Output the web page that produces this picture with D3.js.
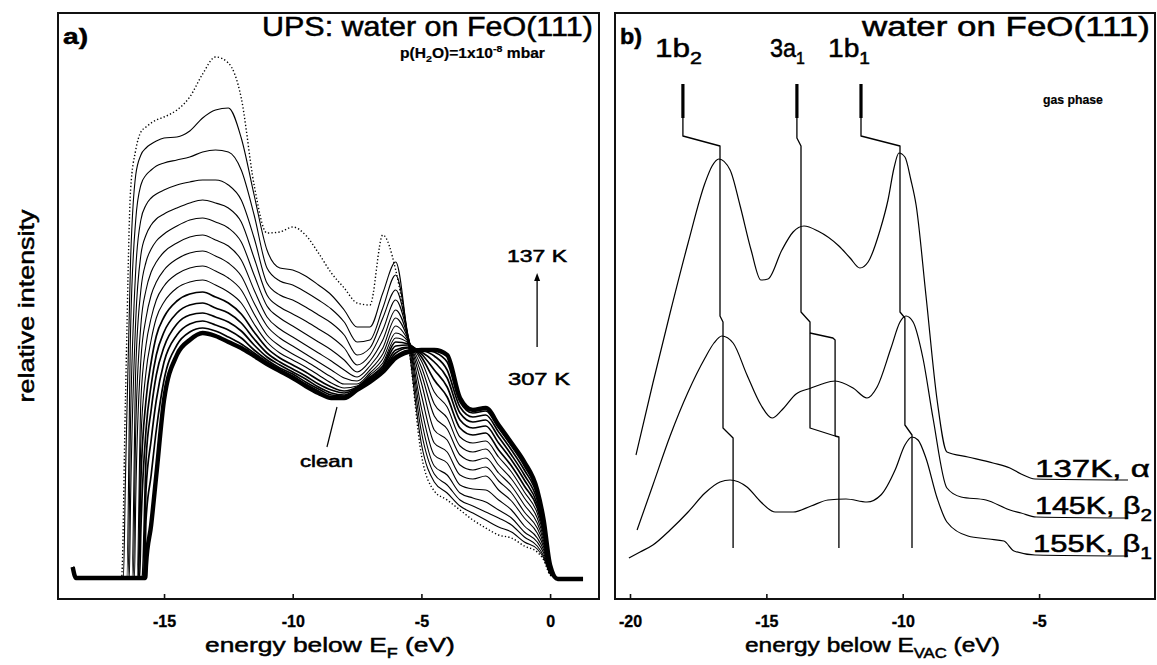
<!DOCTYPE html>
<html><head><meta charset="utf-8">
<script src="https://cdn.jsdelivr.net/npm/d3@7"></script>
<style>html,body{margin:0;padding:0;background:#fff;} svg{display:block}</style>
</head><body>
<script>
// ---------------- DATA ----------------
// Panel a: UPS spectra (energy below E_F, eV) ; intensities in arbitrary units
const energyGridA = [-16.5,-16.3,-16.1,-15.9,-15.7,-15.5,-15.3,-15.0,-14.5,-14.0,-13.5,-13.0,-12.5,-12.0,-11.5,-11.0,-10.5,-10.0,-9.5,-9.0,-8.5,-8.0,-7.5,-7.0,-6.5,-6.0,-5.5,-5.0,-4.5,-4.0,-3.5,-3.0,-2.5,-2.0,-1.5,-1.0,-0.5,-0.25,0.0];
const onsetA = [-15.73,-15.76,-15.8,-15.85,-15.95,-16.0,-16.02,-16.05,-16.15,-16.2,-16.25,-16.35,-16.4,-16.45,-16.58,-16.65];
const baselineA = 21;
const leadInA = [[-18.55,32],[-18.42,21]];
const tailA = [[0.3,20],[1.28,20]];
const n = null;
const uvClean = [n,n,n,n,34,74,124,199,244,259,266,263,257,251,243,235,228,221,213,206,201,201,209,217,227,241,247,249,249,244,201,189,191,174,156,137,109,79,34];
const uv01 = [n,n,n,n,79,124,169,219,254,267,271,268,262,255,246,237,229,223,215,208,202,202,209,218,227,243,249,250,247,237,197,186,188,171,153,133,106,77,33];
const uv02 = [n,n,n,n,109,159,199,237,264,275,278,274,269,261,249,239,231,225,217,210,204,203,210,219,228,246,251,249,243,229,192,182,184,167,149,129,103,75,33];
const uv03 = [n,n,n,n,139,189,224,252,275,284,286,282,277,268,254,242,234,227,220,212,206,204,210,220,229,249,252,247,237,221,186,177,179,162,144,124,99,72,32];
const uv04 = [n,n,n,69,169,214,244,267,286,294,296,291,286,276,260,246,237,230,223,215,209,206,211,221,231,253,254,245,229,212,179,171,173,156,139,119,95,70,31];
const uv05 = [n,n,n,119,199,237,263,282,298,305,307,302,296,285,267,251,241,234,227,219,212,208,212,222,233,257,255,242,219,202,171,164,166,149,133,113,91,67,31];
const uv06 = [n,n,n,159,227,259,281,297,311,317,319,314,307,296,275,257,246,239,232,224,216,211,213,224,236,261,256,238,207,192,162,156,158,142,127,107,86,64,30];
const uv07 = [n,n,n,199,254,281,299,313,325,331,333,328,321,309,285,264,253,245,238,230,222,215,215,226,240,266,257,232,195,181,153,147,150,134,120,101,81,61,29];
const uv08 = [n,n,99,239,281,304,317,329,340,346,348,343,336,323,296,273,261,253,245,237,229,221,218,229,245,273,258,225,183,170,144,138,141,126,113,94,76,58,29];
const uv09 = [n,n,169,274,309,327,337,347,356,362,364,359,353,339,309,282,270,262,254,246,238,229,222,233,251,281,259,216,169,159,134,129,132,118,106,87,71,55,28];
const uv10 = [n,n,229,309,337,350,358,365,373,379,381,377,371,357,324,293,281,273,265,257,249,239,227,238,259,289,260,204,156,147,124,120,123,109,98,81,66,52,27];
const uv11 = [n,99,279,344,364,374,380,385,391,396,399,396,391,377,341,304,292,285,278,270,262,251,234,244,269,299,261,191,144,136,114,110,109,99,89,73,61,49,27];
const uv12 = [n,179,329,379,394,401,405,409,414,417,419,419,414,399,361,316,304,299,292,284,276,264,244,251,281,309,261,179,133,124,106,101,97,89,81,67,57,46,26];
const uv13 = [n,269,379,414,424,429,433,436,439,442,447,449,447,429,384,331,318,314,307,299,290,277,257,259,291,324,259,167,125,114,99,93,87,81,74,62,53,43,26];
const uv14 = [119,339,424,444,451,455,458,461,462,468,481,489,491,461,404,349,331,329,323,314,304,289,272,272,306,337,254,155,117,106,93,86,79,72,67,57,50,41,25];
const uv137K = [199,409,449,467,472,476,479,482,489,502,525,542,536,501,414,366,367,372,364,346,326,311,296,294,364,329,254,144,108,99,89,79,71,64,61,53,47,39,24];
const seriesA = [uvClean,uv01,uv02,uv03,uv04,uv05,uv06,uv07,uv08,uv09,uv10,uv11,uv12,uv13,uv14,uv137K];
const ticksA = [-15,-10,-5,0];

// Panel b: energy below E_VAC (eV)
const e137 = [-19.78,-19.16,-18.53,-17.87,-17.25,-16.99,-16.74,-16.33,-15.97,-15.56,-15.2,-14.94,-14.43,-14.02,-13.62,-13.11,-12.34,-11.93,-11.57,-11.27,-10.83,-10.54,-10.32,-10.14,-9.92,-9.7,-9.51,-9.15,-8.74,-8.38,-7.61,-6.69,-6.07,-5.66,-5.15,-1.74];
const i137 = [144,216,286,356,416,433,440,429,394,349,319,320,349,367,373,368,353,341,331,337,369,399,431,446,442,419,394,304,199,147,142,136,131,125,120,119];
const e145 = [-19.74,-19.16,-18.53,-17.87,-17.25,-16.92,-16.63,-16.22,-15.71,-15.2,-14.79,-14.43,-13.91,-13.36,-12.96,-12.48,-11.82,-11.31,-10.94,-10.43,-10.1,-9.88,-9.62,-9.26,-8.89,-8.38,-7.86,-6.95,-6.07,-5.66,-5.11,-1.74];
const i145 = [69,114,163,207,241,256,263,256,224,194,181,189,205,211,215,218,211,201,212,251,277,283,277,241,181,111,102,99,89,86,82,81];
const e155 = [-20.04,-19.63,-19.16,-18.53,-17.87,-17.25,-16.7,-16.33,-15.71,-15.2,-14.68,-14.02,-13.36,-12.74,-12.08,-11.31,-10.8,-10.28,-9.92,-9.66,-9.44,-9.15,-8.74,-8.38,-7.61,-6.84,-6.29,-5.92,-5.15,-1.74];
const i155 = [41,47,54,69,87,106,117,119,112,97,87,87,93,99,100,97,104,129,154,162,159,141,101,77,63,60,58,48,44,43];
const gasPhaseE = [-18.06,-13.88,-11.53];
const gasBar = [481,515];
const mark1b2 = [[-18.06,481],[-18.06,463],[-16.70,453],[-16.70,283],[-16.59,277],[-16.59,171],[-16.22,161],[-16.22,51]];
const mark3a1 = [[-13.88,481],[-13.88,461],[-13.73,453],[-13.73,287],[-13.40,277],[-13.40,171],[-12.48,163],[-12.34,162],[-12.34,51]];
const mark3a1box = [[-13.40,266],[-12.56,261],[-12.48,259],[-12.48,163]];
const mark1b1 = [[-11.53,481],[-11.53,463],[-10.10,453],[-10.10,287],[-9.92,281],[-9.92,174],[-9.66,164],[-9.66,51]];
const ticksB = [-20,-15,-10,-5];

// ---------------- DRAW ----------------
const W = 1157, H = 665;
const FONT = "'Liberation Sans', Arial, Helvetica, sans-serif";
const svg = d3.select('body').append('svg').attr('width', W).attr('height', H);
svg.append('rect').attr('width', W).attr('height', H).attr('fill', '#fff');

const xA = d3.scaleLinear().domain([-19.12, 1.90]).range([58, 599]);
const xB = d3.scaleLinear().domain([-20.55, -0.75]).range([615, 1155]);
const yI = d3.scaleLinear().domain([0, 586]).range([599, 13]);

function fitText(parent, o) {
  const g = parent.append('g');
  const t = g.append('text').attr('font-family', FONT).attr('font-size', o.size)
    .attr('font-weight', o.weight || 'normal').attr('fill', '#000')
    .attr('stroke', '#000').attr('stroke-width', o.sw == null ? 0.5 : o.sw);
  let shift = 0;
  o.parts.forEach(p => {
    const ts = t.append('tspan').text(p[0]);
    const target = p[1] === 'sub' ? 0.28 * o.size : p[1] === 'sup' ? -0.42 * o.size : 0;
    if (target !== shift) { ts.attr('dy', target - shift); shift = target; }
    if (p[1]) ts.attr('font-size', o.size * 0.68);
  });
  const w = t.node().getComputedTextLength();
  const sx = o.w / w;
  const tx = o.anchor === 'middle' ? -o.w / 2 : 0;
  g.attr('transform', `translate(${o.x},${o.y})${o.rotate ? ` rotate(${o.rotate})` : ''} translate(${tx},0) scale(${sx},1)`);
  return g;
}

// Frames
[[58,13,599,599],[615,13,1155,599]].forEach(f => {
  svg.append('rect').attr('x', f[0]).attr('y', f[1]).attr('width', f[2]-f[0]).attr('height', f[3]-f[1])
    .attr('fill', 'none').attr('stroke', '#111').attr('stroke-width', 2);
});

// Axes
function styleAxis(g) {
  g.select('.domain').remove();
  g.selectAll('.tick line').attr('stroke', '#111').attr('stroke-width', 1.6);
  g.selectAll('.tick text').attr('font-family', FONT).attr('font-size', 16).attr('font-weight', 'bold')
    .attr('fill', '#000').attr('stroke', '#000').attr('stroke-width', 0.3);
}
svg.append('g').attr('transform', 'translate(0,599)')
  .call(d3.axisBottom(xA).tickValues(ticksA).tickSize(-5).tickPadding(17).tickFormat(d => String(d)))
  .call(styleAxis);
svg.append('g').attr('transform', 'translate(0,599)')
  .call(d3.axisBottom(xB).tickValues(ticksB).tickSize(-5).tickPadding(17).tickFormat(d => String(d)))
  .call(styleAxis);

// Panel a curves
const lineA = d3.line().x(d => xA(d[0])).y(d => yI(d[1])).curve(d3.curveMonotoneX);
const gA = svg.append('g').attr('fill', 'none').attr('stroke', '#000').attr('stroke-linejoin', 'round');
for (let i = seriesA.length - 1; i >= 0; i--) {
  const vals = seriesA[i];
  const pts = [...leadInA, [onsetA[i], baselineA]];
  energyGridA.forEach((e, j) => { if (vals[j] != null) pts.push([e, vals[j]]); });
  pts.push(...tailA);
  const p = gA.append('path').attr('d', lineA(pts));
  if (i === 0) p.attr('stroke-width', 4.4);
  else if (i === seriesA.length - 1) p.attr('stroke-width', 1.4).attr('stroke-dasharray', '1.3,2.2');
  else if (i <= 5) p.attr('stroke-width', 1.7);
  else p.attr('stroke-width', 1.1);
}

// Panel a annotations
const ann = svg.append('g');
ann.append('line').attr('x1', xA(-8.67)).attr('y1', yI(152)).attr('x2', xA(-8.28)).attr('y2', yI(192))
  .attr('stroke', '#000').attr('stroke-width', 1.2);
ann.append('line').attr('x1', xA(-0.505)).attr('y1', yI(252)).attr('x2', xA(-0.505)).attr('y2', yI(318))
  .attr('stroke', '#000').attr('stroke-width', 1.3);
ann.append('path').attr('d', `M${xA(-0.505)},${yI(326)} l-3,8 l6,0 z`).attr('fill', '#000');

fitText(svg, {x: 63, y: 44, w: 25, size: 22, weight: 'bold', parts: [['a)']]});
fitText(svg, {x: 262, y: 36, w: 331, size: 27, parts: [['UPS: water on FeO(111)']]});
fitText(svg, {x: 400, y: 58, w: 145, size: 14, weight: 'bold', sw: 0.2,
  parts: [['p(H'], ['2','sub'], ['O)=1x10'], ['-8','sup'], [' mbar']]});
fitText(svg, {x: 507, y: 262, w: 60, size: 16, parts: [['137 K']]});
fitText(svg, {x: 508, y: 385, w: 62, size: 16, parts: [['307 K']]});
fitText(svg, {x: 300, y: 467, w: 53, size: 16, parts: [['clean']]});
fitText(svg, {x: 34, y: 306, w: 193, size: 22, anchor: 'middle', rotate: -90, parts: [['relative intensity']]});
fitText(svg, {x: 205, y: 652, w: 250, size: 21, parts: [['energy below E'], ['F','sub'], [' (eV)']]});

// Panel b curves
const lineB = d3.line().x(d => xB(d[0])).y(d => yI(d[1])).curve(d3.curveMonotoneX);
const gB = svg.append('g').attr('fill', 'none').attr('stroke', '#000').attr('stroke-width', 1.2).attr('stroke-linejoin', 'round');
[[e137, i137], [e145, i145], [e155, i155]].forEach(([es, is]) => {
  gB.append('path').attr('d', lineB(es.map((e, k) => [e, is[k]])));
});
const lineLin = d3.line().x(d => xB(d[0])).y(d => yI(d[1]));
[mark1b2, mark3a1, mark3a1box, mark1b1].forEach(m => {
  gB.append('path').attr('d', lineLin(m)).attr('stroke-width', 1.3);
});
gasPhaseE.forEach(e => {
  gB.append('line').attr('x1', xB(e)).attr('x2', xB(e)).attr('y1', yI(gasBar[0])).attr('y2', yI(gasBar[1]))
    .attr('stroke-width', 3.2);
});

fitText(svg, {x: 620, y: 44, w: 22, size: 22, weight: 'bold', parts: [['b)']]});
fitText(svg, {x: 862, y: 36, w: 288, size: 27, parts: [['water on FeO(111)']]});
fitText(svg, {x: 655, y: 57, w: 47, size: 25, parts: [['1b'], ['2','sub']]});
fitText(svg, {x: 770, y: 57, w: 35, size: 25, parts: [['3a'], ['1','sub']]});
fitText(svg, {x: 828, y: 57, w: 42, size: 25, parts: [['1b'], ['1','sub']]});
fitText(svg, {x: 1043, y: 104, w: 60, size: 13, weight: 'bold', sw: 0.2, parts: [['gas phase']]});
fitText(svg, {x: 1035, y: 477, w: 115, size: 24, parts: [['137K, α']]});
fitText(svg, {x: 1035, y: 514, w: 117, size: 24, parts: [['145K, β'], ['2','sub']]});
fitText(svg, {x: 1033, y: 552, w: 119, size: 24, parts: [['155K, β'], ['1','sub']]});
fitText(svg, {x: 745, y: 652, w: 255, size: 21, parts: [['energy below E'], ['VAC','sub'], ['  (eV)']]});
</script>
</body></html>
